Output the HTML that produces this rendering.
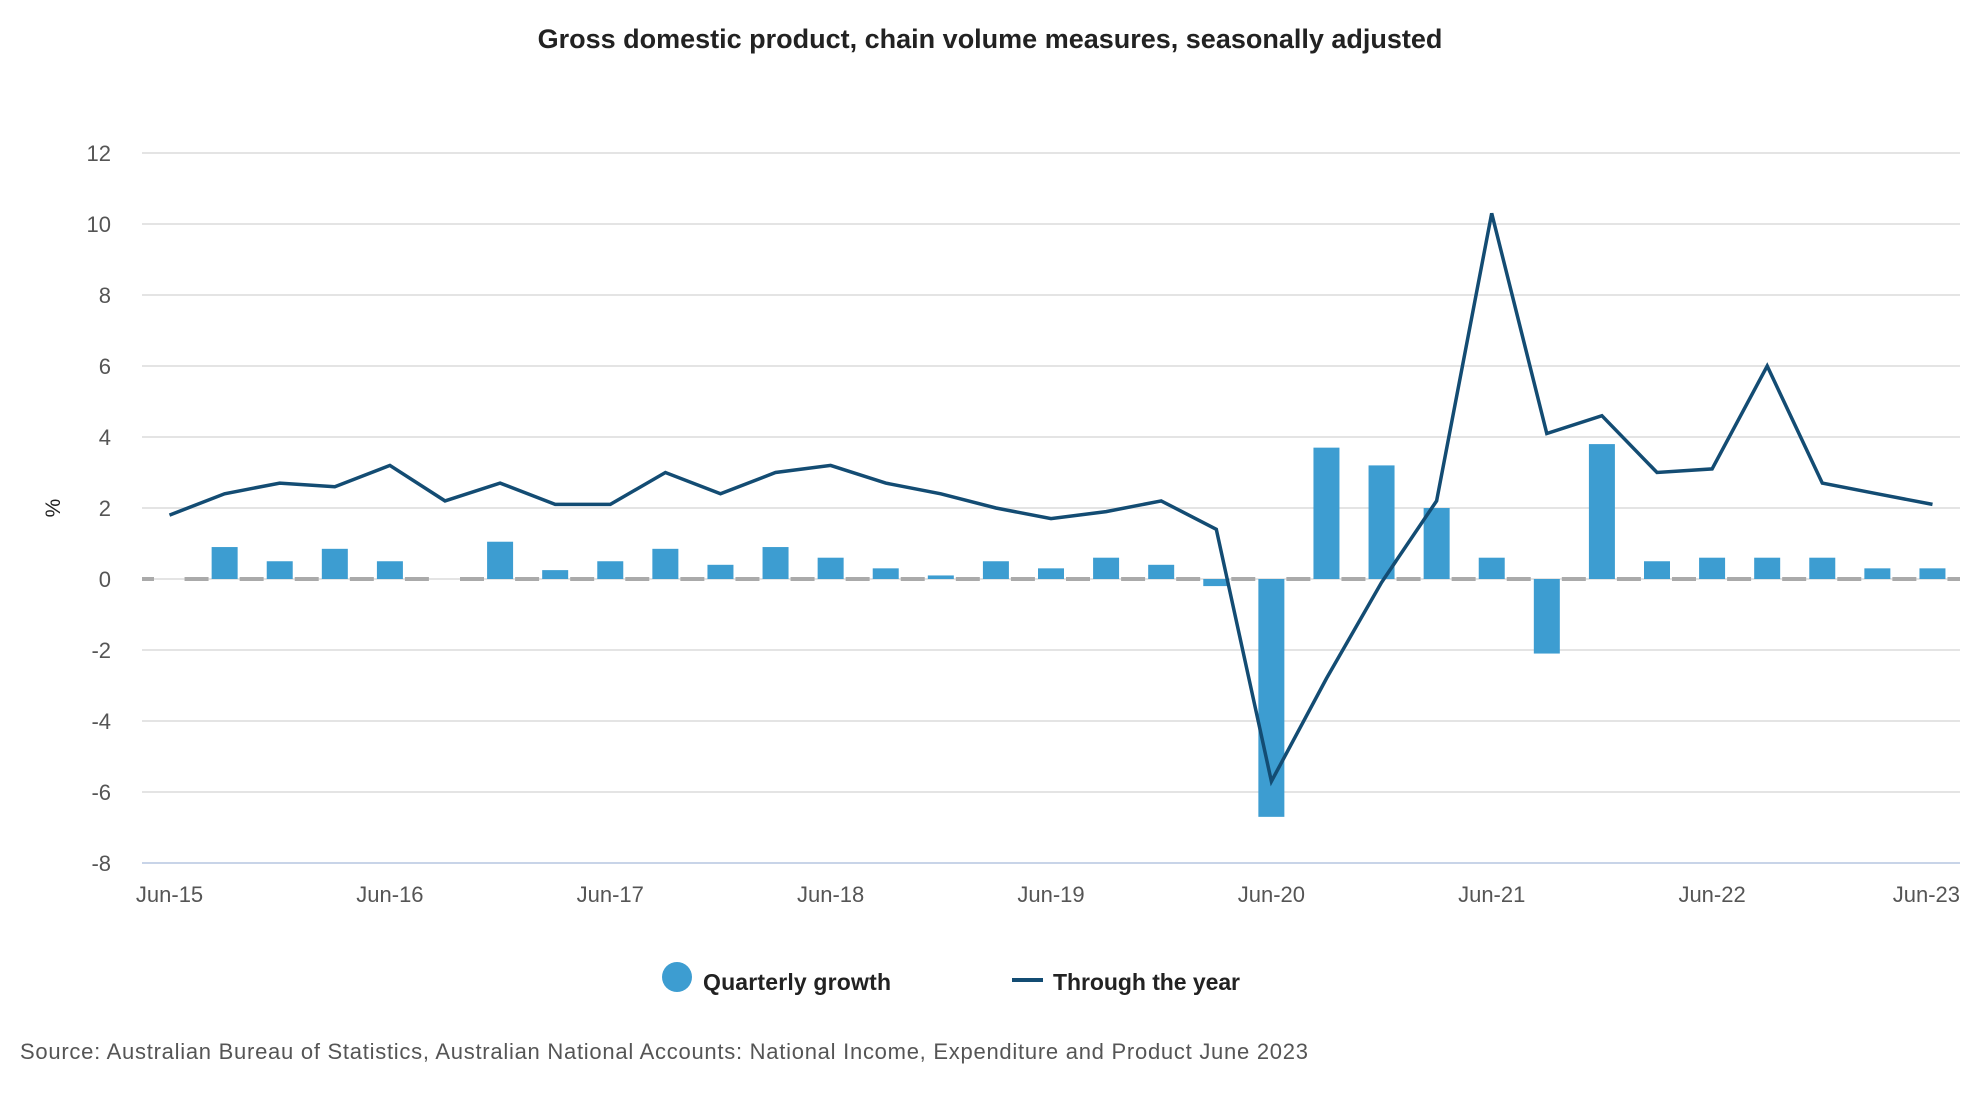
<!DOCTYPE html>
<html><head><meta charset="utf-8"><style>
body{margin:0;background:#fff;font-family:"Liberation Sans",sans-serif;}
svg{display:block}
</style></head><body>
<svg id="chart" width="1980" height="1100">
<text x="990" y="48" text-anchor="middle" font-size="27" font-weight="bold" fill="#222">Gross domestic product, chain volume measures, seasonally adjusted</text>
<g id="grid"></g><g id="bars"></g><g id="line"></g><g id="xl"></g>
<text transform="translate(60,508) rotate(-90)" text-anchor="middle" font-size="21" fill="#222">%</text>
<g>
<circle cx="677" cy="977" r="15" fill="#3d9dd1"/>
<text x="703" y="990" font-size="23" font-weight="bold" fill="#222" textLength="188">Quarterly growth</text>
<line x1="1012" y1="980" x2="1043" y2="980" stroke="#134c73" stroke-width="4"/>
<text x="1053" y="990" font-size="23" font-weight="bold" fill="#222" textLength="187">Through the year</text>
</g>
<text x="20" y="1059" font-size="22" fill="#555" textLength="1288">Source: Australian Bureau of Statistics, Australian National Accounts: National Income, Expenditure and Product June 2023</text>
</svg>
<script>
const categories=["Jun-15","Sep-15","Dec-15","Mar-16","Jun-16","Sep-16","Dec-16","Mar-17","Jun-17","Sep-17","Dec-17","Mar-18","Jun-18","Sep-18","Dec-18","Mar-19","Jun-19","Sep-19","Dec-19","Mar-20","Jun-20","Sep-20","Dec-20","Mar-21","Jun-21","Sep-21","Dec-21","Mar-22","Jun-22","Sep-22","Dec-22","Mar-23","Jun-23"];
const quarterly=[0,0.9,0.5,0.85,0.5,0,1.05,0.25,0.5,0.85,0.4,0.9,0.6,0.3,0.1,0.5,0.3,0.6,0.4,-0.2,-6.7,3.7,3.2,2.0,0.6,-2.1,3.8,0.5,0.6,0.6,0.6,0.3,0.3];
const throughYear=[1.8,2.4,2.7,2.6,3.2,2.2,2.7,2.1,2.1,3.0,2.4,3.0,3.2,2.7,2.4,2.0,1.7,1.9,2.2,1.4,-5.7,-2.8,-0.1,2.2,10.3,4.1,4.6,3.0,3.1,6.0,2.7,2.4,2.1];
const yTicks=[12,10,8,6,4,2,0,-2,-4,-6,-8];
const xTickLabels=["Jun-15","Jun-16","Jun-17","Jun-18","Jun-19","Jun-20","Jun-21","Jun-22","Jun-23"];
const NS="http://www.w3.org/2000/svg";
const L=142,R=1960,band=(R-L)/categories.length;
const y=v=>579-v*35.5;
const x=i=>L+band*(i+0.5);
function mk(t,p,a){const e=document.createElementNS(NS,t);for(const k in a)e.setAttribute(k,a[k]);p.appendChild(e);return e;}
const g=document.getElementById('grid');
yTicks.forEach(v=>{
 const ln=mk('line',g,{x1:L,x2:R,y1:y(v),y2:y(v),stroke:v===-8?'#c8d4e8':'#e4e4e4','stroke-width':2});
 
 
 const t=mk('text',g,{x:111,y:y(v)+8,'text-anchor':'end','font-size':22,fill:'#555'});
 t.textContent=v;
 
 
});
const b=document.getElementById('bars');
const gr0=mk('rect',b,{x:L,y:y(0)-2,width:12,height:4,fill:'#aaa'});


quarterly.forEach((v,i)=>{
 const cx=x(i);
 if(v!==0){
  const r=mk('rect',b,{x:cx-13,y:Math.min(y(v),y(0)),width:26,height:Math.abs(y(v)-y(0)),fill:'#3d9dd1'});
  
  
 }
 const d=mk('rect',b,{x:cx+15,y:y(0)-2,width:Math.min(24,R-(cx+15)),height:4,fill:'#aaa'});
 
 
});
const pts=throughYear.map((v,i)=>x(i).toFixed(1)+','+y(v).toFixed(1)).join(' ');
const pl=mk('polyline',document.getElementById('line'),{points:pts,fill:'none',stroke:'#134c73','stroke-width':3.5,'stroke-linejoin':'miter'});


const xl=document.getElementById('xl');
xTickLabels.forEach((lbl,k)=>{
 const i=categories.indexOf(lbl);
 const last=k===xTickLabels.length-1;
 const t=mk('text',xl,{x:last?R:x(i),y:902,'text-anchor':last?'end':'middle','font-size':22,fill:'#555'});
 t.textContent=lbl;
 
 
});
</script>
</body></html>
